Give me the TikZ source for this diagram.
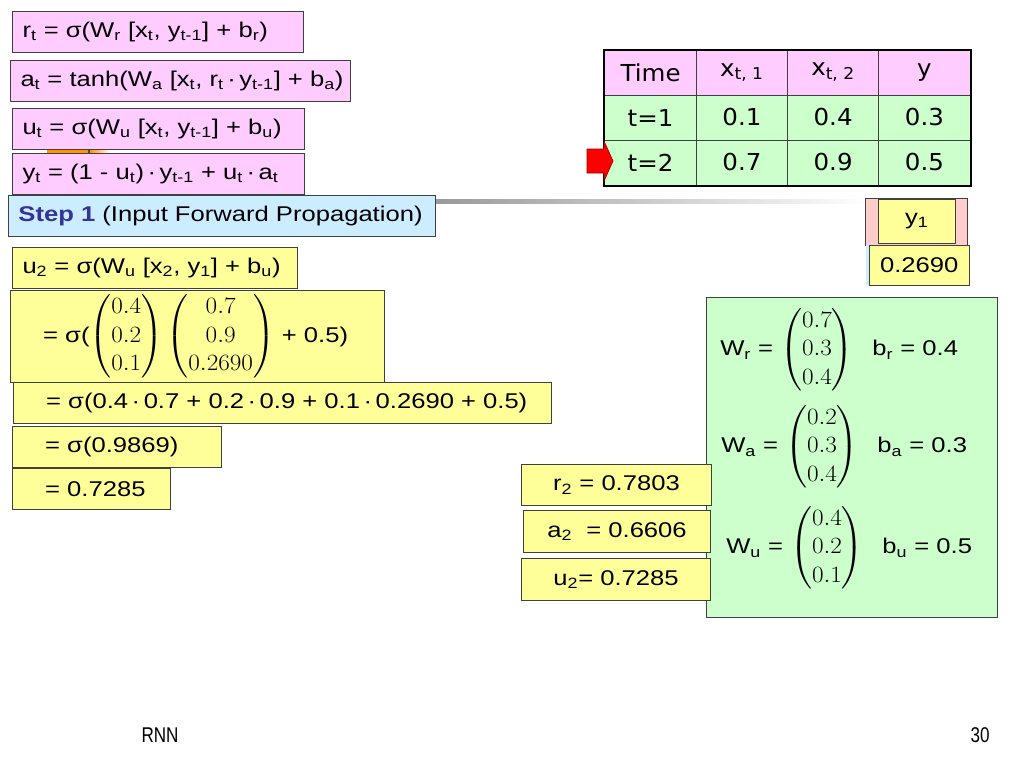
\RequirePackage{fix-cm}
\documentclass[tikz,border=0pt]{standalone}
\usepackage{amsmath}
\usepackage[no-math]{fontspec}
\usepackage{graphicx}
\setmainfont{Liberation Sans}[FakeStretch=1.2]
\newfontfamily\tabfont{DejaVu Sans}[FakeStretch=1.05]
\newfontfamily\footfont{Liberation Sans}[FakeStretch=0.8]
\definecolor{pinkfill}{HTML}{FFCCFF}
\definecolor{yellowfill}{HTML}{FFFF99}
\definecolor{bluefill}{HTML}{CCECFF}
\definecolor{greenfill}{HTML}{CCFFCC}
\definecolor{rosefill}{HTML}{FFCCCC}
\definecolor{stepblue}{HTML}{333399}
\definecolor{edge}{HTML}{404040}
\newcommand{\sbs}[1]{\textsubscript{#1}}
\newcommand{\colvec}[3]{\scalebox{1.08}[1]{\fontsize{17.5}{21.5}\selectfont$\begin{pmatrix}#1\\#2\\#3\end{pmatrix}$}}
\tikzset{
  eqbox/.style={draw=edge, line width=0.75pt, anchor=north west, inner xsep=7.5pt, inner ysep=0pt,
    minimum height=30.75pt, align=left, font=\fontsize{16}{19}\selectfont},
  pinkbox/.style={eqbox, fill=pinkfill},
  yellowbox/.style={eqbox, fill=yellowfill},
  paramrow/.style={anchor=west, inner sep=0pt, font=\fontsize{16}{19}\selectfont},
  cell/.style={draw=edge, line width=0.75pt, minimum width=68.44pt, minimum height=33.75pt, inner sep=0pt,
    font=\tabfont\fontsize{17.5}{20}\selectfont},
}
\begin{document}
\begin{tikzpicture}[x=0.75pt,y=-0.75pt]
\useasboundingbox (0,0) rectangle (1024,768);
\shade[left color=black!40, right color=white] (435,199) rectangle (870,203);
\fill[orange!85!yellow] (47,149) rectangle (88,153);
\fill[black!70] (88,149) rectangle (90,153);
\shade[left color=orange!85!yellow, right color=white] (90,149) rectangle (110,153);
% gate equations
\node[pinkbox, text width=203.25pt] (rt) at (12,11) {\mbox{r\sbs{t} = σ(W\sbs{r} [x\sbs{t}, y\sbs{t-1}] + b\sbs{r})}};
\node[pinkbox, text width=240pt] (at) at (10,60) {\mbox{a\sbs{t} = tanh(W\sbs{a} [x\sbs{t}, r\sbs{t}\,·\,y\sbs{t-1}] + b\sbs{a})}};
\node[pinkbox, text width=204pt] (ut) at (12,108) {\mbox{u\sbs{t} = σ(W\sbs{u} [x\sbs{t}, y\sbs{t-1}] + b\sbs{u})}};
\node[pinkbox, text width=204pt] (yt) at (12,153) {\mbox{y\sbs{t} = (1 - u\sbs{t})\,·\,y\sbs{t-1} + u\sbs{t}\,·\,a\sbs{t}}};
\node[eqbox, fill=bluefill, text width=305.25pt] (step) at (8,195)
  {\mbox{\textbf{\color{stepblue}Step 1} (Input Forward Propagation)}};
% computation of u_2
\node[yellowbox, text width=198.75pt] (u2) at (12,247) {\mbox{u\sbs{2} = σ(W\sbs{u} [x\sbs{2}, y\sbs{1}] + b\sbs{u})}};
\node[yellowbox, text width=265.5pt, minimum height=69pt] (mat) at (10,290)
  {\mbox{\hspace*{17pt}= σ(\colvec{0.4}{0.2}{0.1}\,\colvec{0.7}{0.9}{0.2690} + 0.5)}};
\node[yellowbox, text width=388.5pt] (dot) at (13,382)
  {\mbox{\hspace*{17pt}= σ(0.4\,·\,0.7 + 0.2\,·\,0.9 + 0.1\,·\,0.2690 + 0.5)}};
\node[yellowbox, text width=141.75pt] (sig) at (12,426) {\mbox{\hspace*{17pt}= σ(0.9869)}};
\node[yellowbox, text width=103.5pt] (res) at (12,468) {\mbox{\hspace*{17pt}= 0.7285}};
% parameters
\node[eqbox, fill=greenfill, minimum width=218.25pt, minimum height=240pt] (params) at (706,297) {};
\node[paramrow] (wr) at (720,350) {W\sbs{r} = \colvec{0.7}{0.3}{0.4}\hspace{14pt}b\sbs{r} = 0.4};
\node[paramrow] (wa) at (721,447) {W\sbs{a} = \colvec{0.2}{0.3}{0.4}\hspace{14pt}b\sbs{a} = 0.3};
\node[paramrow] (wu) at (726,548) {W\sbs{u} = \colvec{0.4}{0.2}{0.1}\hspace{14pt}b\sbs{u} = 0.5};
\node[yellowbox, minimum width=142.5pt] (r2) at (521,464) {r\sbs{2} = 0.7803};
\node[yellowbox, minimum width=140.25pt, minimum height=31.5pt] (a2) at (523,510) {a\sbs{2}~ = 0.6606};
\node[yellowbox, minimum width=141.75pt, minimum height=31.5pt] (u2v) at (521,558) {u\sbs{2}= 0.7285};
% input table
\foreach \r/\fc/\ta/\tb/\tc/\td in {0/pinkfill/Time/{x\sbs{t, 1}}/{x\sbs{t, 2}}/y,
    1/greenfill/t=1/0.1/0.4/0.3, 2/greenfill/t=2/0.7/0.9/0.5}{
  \node[cell, fill=\fc] (c\r-1) at (650.6,{72.5+45*\r}) {\ta};
  \node[cell, fill=\fc] (c\r-2) at (741.9,{72.5+45*\r}) {\tb};
  \node[cell, fill=\fc] (c\r-3) at (833.1,{72.5+45*\r}) {\tc};
  \node[cell, fill=\fc] (c\r-4) at (924.4,{72.5+45*\r}) {\td};
}
\draw[line width=1.5pt] (c0-1.north west) rectangle (c2-4.south east);
\filldraw[fill=red, draw=red!60!black, line width=0.5pt] (587,149) -- (604,149) -- (604,141) -- (613,161)
  -- (604,181) -- (604,173) -- (587,173) -- cycle;
% previous output
\node[draw=edge, fill=rosefill, anchor=north west, minimum width=76.5pt, minimum height=35.25pt, inner sep=0pt] (y1back) at (865,198) {};
\node[draw=edge, fill=yellowfill, anchor=north west, minimum width=57.75pt, minimum height=33pt, inner sep=0pt,
  font=\fontsize{16}{19}\selectfont] (y1lab) at (878,199) {y\sbs{1}};
\node[fill=bluefill, anchor=north west, minimum width=3pt, minimum height=30pt, inner sep=0pt] (y1strip) at (865.5,245) {};
\node[draw=edge, fill=yellowfill, anchor=north west, minimum width=75pt, minimum height=30pt, inner sep=0pt,
  font=\fontsize{16}{19}\selectfont] (y1val) at (869,245) {0.2690};
\node[font=\footfont\fontsize{16}{18}\selectfont] (foot) at (160,735) {RNN};
\node[font=\footfont\fontsize{16}{18}\selectfont] (page) at (980,735) {30};
\end{tikzpicture}
\end{document}
